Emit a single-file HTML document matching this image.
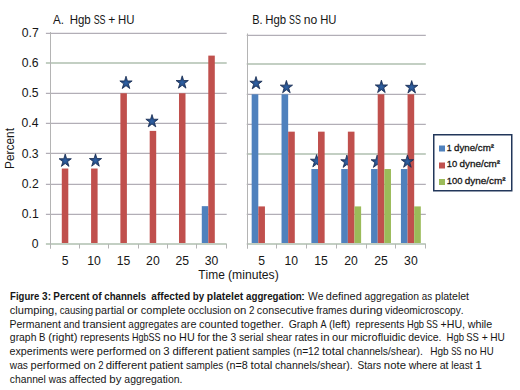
<!DOCTYPE html>
<html><head><meta charset="utf-8"><style>
html,body{margin:0;padding:0;background:#fff;width:520px;height:390px;overflow:hidden}
svg{display:block}
text{font-family:"Liberation Sans",sans-serif;fill:#161616;font-kerning:none}
</style></head><body>
<svg width="520" height="390" viewBox="0 0 520 390">
<defs><radialGradient id="sg" cx="0.5" cy="0.55" r="0.5"><stop offset="0" stop-color="#3063a6"/><stop offset="1" stop-color="#1c3a6c"/></radialGradient></defs>
<rect width="520" height="390" fill="#fff"/>
<rect x="45.90" y="243" width="180.80" height="2" fill="#c3cfc3"/>
<rect x="45.90" y="213" width="180.80" height="1" fill="#ecebee"/>
<rect x="45.90" y="214" width="180.80" height="1" fill="#b2aeb6"/>
<rect x="45.90" y="183" width="180.80" height="1" fill="#ecebee"/>
<rect x="45.90" y="184" width="180.80" height="1" fill="#b2aeb6"/>
<rect x="45.90" y="152" width="180.80" height="1" fill="#ecebee"/>
<rect x="45.90" y="153" width="180.80" height="1" fill="#b2aeb6"/>
<rect x="45.90" y="122" width="180.80" height="1" fill="#ecebee"/>
<rect x="45.90" y="123" width="180.80" height="1" fill="#b2aeb6"/>
<rect x="45.90" y="92" width="180.80" height="1" fill="#ecebee"/>
<rect x="45.90" y="93" width="180.80" height="1" fill="#b2aeb6"/>
<rect x="45.90" y="62" width="180.80" height="2" fill="#c3cfc3"/>
<rect x="45.90" y="32" width="180.80" height="1" fill="#ecebee"/>
<rect x="45.90" y="33" width="180.80" height="1" fill="#b2aeb6"/>
<rect x="50.00" y="32.03" width="1" height="216.47" fill="#b4b4b4"/>
<rect x="50.00" y="244.00" width="1" height="4.50" fill="#b4b4b4"/>
<rect x="79.00" y="244.00" width="1" height="4.50" fill="#b4b4b4"/>
<rect x="108.00" y="244.00" width="1" height="4.50" fill="#b4b4b4"/>
<rect x="138.00" y="244.00" width="1" height="4.50" fill="#b4b4b4"/>
<rect x="167.00" y="244.00" width="1" height="4.50" fill="#b4b4b4"/>
<rect x="196.00" y="244.00" width="1" height="4.50" fill="#b4b4b4"/>
<rect x="226.00" y="244.00" width="1" height="4.50" fill="#b4b4b4"/>
<rect x="246.70" y="243" width="179.10" height="2" fill="#c3cfc3"/>
<rect x="246.70" y="213" width="179.10" height="1" fill="#ecebee"/>
<rect x="246.70" y="214" width="179.10" height="1" fill="#b2aeb6"/>
<rect x="246.70" y="183" width="179.10" height="1" fill="#ecebee"/>
<rect x="246.70" y="184" width="179.10" height="1" fill="#b2aeb6"/>
<rect x="246.70" y="153" width="179.10" height="2" fill="#c3cfc3"/>
<rect x="246.70" y="123" width="179.10" height="1" fill="#ecebee"/>
<rect x="246.70" y="124" width="179.10" height="1" fill="#b2aeb6"/>
<rect x="246.70" y="93" width="179.10" height="1" fill="#ecebee"/>
<rect x="246.70" y="94" width="179.10" height="1" fill="#b2aeb6"/>
<rect x="246.70" y="63" width="179.10" height="2" fill="#c3cfc3"/>
<rect x="246.70" y="34" width="179.10" height="1" fill="#ecebee"/>
<rect x="246.70" y="35" width="179.10" height="1" fill="#b2aeb6"/>
<rect x="247.00" y="33.48" width="1" height="215.02" fill="#b4b4b4"/>
<rect x="247.00" y="244.00" width="1" height="4.50" fill="#b4b4b4"/>
<rect x="276.00" y="244.00" width="1" height="4.50" fill="#b4b4b4"/>
<rect x="306.00" y="244.00" width="1" height="4.50" fill="#b4b4b4"/>
<rect x="336.00" y="244.00" width="1" height="4.50" fill="#b4b4b4"/>
<rect x="366.00" y="244.00" width="1" height="4.50" fill="#b4b4b4"/>
<rect x="395.00" y="244.00" width="1" height="4.50" fill="#b4b4b4"/>
<rect x="425.00" y="244.00" width="1" height="4.50" fill="#b4b4b4"/>
<rect x="61.79" y="168.53" width="6.51" height="74.47" fill="#c0504d"/>
<rect x="91.09" y="168.53" width="6.51" height="74.47" fill="#c0504d"/>
<rect x="120.39" y="93.25" width="6.51" height="149.75" fill="#c0504d"/>
<rect x="149.69" y="130.89" width="6.51" height="112.11" fill="#c0504d"/>
<rect x="178.99" y="93.25" width="6.51" height="149.75" fill="#c0504d"/>
<rect x="201.78" y="206.16" width="6.51" height="36.84" fill="#4f81bd"/>
<rect x="208.29" y="55.61" width="6.51" height="187.39" fill="#c0504d"/>
<polygon points="65.20,154.00 66.65,158.73 71.35,158.73 67.55,161.66 69.00,166.39 65.20,163.47 61.40,166.39 62.85,161.66 59.05,158.73 63.75,158.73" fill="url(#sg)" stroke="#152b52" stroke-width="0.8"/>
<polygon points="95.50,153.80 96.95,158.53 101.65,158.53 97.85,161.46 99.30,166.19 95.50,163.27 91.70,166.19 93.15,161.46 89.35,158.53 94.05,158.53" fill="url(#sg)" stroke="#152b52" stroke-width="0.8"/>
<polygon points="126.00,76.20 127.45,80.93 132.15,80.93 128.35,83.86 129.80,88.59 126.00,85.67 122.20,88.59 123.65,83.86 119.85,80.93 124.55,80.93" fill="url(#sg)" stroke="#152b52" stroke-width="0.8"/>
<polygon points="152.00,114.50 153.45,119.23 158.15,119.23 154.35,122.16 155.80,126.89 152.00,123.97 148.20,126.89 149.65,122.16 145.85,119.23 150.55,119.23" fill="url(#sg)" stroke="#152b52" stroke-width="0.8"/>
<polygon points="182.20,75.80 183.65,80.53 188.35,80.53 184.55,83.46 186.00,88.19 182.20,85.27 178.40,88.19 179.85,83.46 176.05,80.53 180.75,80.53" fill="url(#sg)" stroke="#152b52" stroke-width="0.8"/>
<polygon points="316.60,154.50 318.05,159.23 322.75,159.23 318.95,162.16 320.40,166.89 316.60,163.97 312.80,166.89 314.25,162.16 310.45,159.23 315.15,159.23" fill="url(#sg)" stroke="#152b52" stroke-width="0.8"/>
<polygon points="346.90,155.00 348.35,159.73 353.05,159.73 349.25,162.66 350.70,167.39 346.90,164.47 343.10,167.39 344.55,162.66 340.75,159.73 345.45,159.73" fill="url(#sg)" stroke="#152b52" stroke-width="0.8"/>
<polygon points="377.20,155.00 378.65,159.73 383.35,159.73 379.55,162.66 381.00,167.39 377.20,164.47 373.40,167.39 374.85,162.66 371.05,159.73 375.75,159.73" fill="url(#sg)" stroke="#152b52" stroke-width="0.8"/>
<rect x="251.67" y="94.28" width="6.63" height="148.72" fill="#4f81bd"/>
<rect x="258.31" y="206.41" width="6.63" height="36.59" fill="#c0504d"/>
<rect x="281.53" y="94.28" width="6.63" height="148.72" fill="#4f81bd"/>
<rect x="288.16" y="131.66" width="6.63" height="111.34" fill="#c0504d"/>
<rect x="311.38" y="169.03" width="6.63" height="73.97" fill="#4f81bd"/>
<rect x="318.01" y="131.66" width="6.63" height="111.34" fill="#c0504d"/>
<rect x="341.23" y="169.03" width="6.63" height="73.97" fill="#4f81bd"/>
<rect x="347.86" y="131.66" width="6.63" height="111.34" fill="#c0504d"/>
<rect x="354.49" y="206.41" width="6.63" height="36.59" fill="#9bbb59"/>
<rect x="371.08" y="169.03" width="6.63" height="73.97" fill="#4f81bd"/>
<rect x="377.71" y="94.28" width="6.63" height="148.72" fill="#c0504d"/>
<rect x="384.34" y="169.03" width="6.63" height="73.97" fill="#9bbb59"/>
<rect x="400.93" y="169.03" width="6.63" height="73.97" fill="#4f81bd"/>
<rect x="407.56" y="94.28" width="6.63" height="148.72" fill="#c0504d"/>
<rect x="414.19" y="206.41" width="6.63" height="36.59" fill="#9bbb59"/>
<polygon points="256.00,76.50 257.45,81.23 262.15,81.23 258.35,84.16 259.80,88.89 256.00,85.97 252.20,88.89 253.65,84.16 249.85,81.23 254.55,81.23" fill="url(#sg)" stroke="#152b52" stroke-width="0.8"/>
<polygon points="286.40,80.40 287.85,85.13 292.55,85.13 288.75,88.06 290.20,92.79 286.40,89.87 282.60,92.79 284.05,88.06 280.25,85.13 284.95,85.13" fill="url(#sg)" stroke="#152b52" stroke-width="0.8"/>
<polygon points="407.40,154.90 408.85,159.63 413.55,159.63 409.75,162.56 411.20,167.29 407.40,164.37 403.60,167.29 405.05,162.56 401.25,159.63 405.95,159.63" fill="url(#sg)" stroke="#152b52" stroke-width="0.8"/>
<polygon points="381.40,80.20 382.85,84.93 387.55,84.93 383.75,87.86 385.20,92.59 381.40,89.67 377.60,92.59 379.05,87.86 375.25,84.93 379.95,84.93" fill="url(#sg)" stroke="#152b52" stroke-width="0.8"/>
<polygon points="411.70,80.60 413.15,85.33 417.85,85.33 414.05,88.26 415.50,92.99 411.70,90.07 407.90,92.99 409.35,88.26 405.55,85.33 410.25,85.33" fill="url(#sg)" stroke="#152b52" stroke-width="0.8"/>
<rect x="433.75" y="134.75" width="78" height="56" fill="none" stroke="#22375a" stroke-width="1.5"/>
<rect x="439" y="145.5" width="6" height="6" fill="#4f81bd"/>
<rect x="439" y="162.5" width="6" height="6" fill="#c0504d"/>
<rect x="439" y="179" width="6" height="6" fill="#9bbb59"/>
<text transform="translate(53.10,23.70) scale(0.9511,1) translate(-0.02,0)" font-size="12.2">A.</text>
<text transform="translate(70.60,23.70) scale(0.9428,1) translate(-1.00,0)" font-size="12.2">Hgb</text>
<text transform="translate(94.03,23.70) scale(0.7342,1) translate(-0.55,0)" font-size="12.2">SS</text>
<text transform="translate(108.85,23.70) scale(0.9908,1) translate(-0.60,0)" font-size="12.2">+</text>
<text transform="translate(118.85,23.70) scale(0.9344,1) translate(-1.00,0)" font-size="12.2">HU</text>
<text transform="translate(253.10,23.70) scale(0.9010,1) translate(-1.00,0)" font-size="12.2">B.</text>
<text transform="translate(266.22,23.70) scale(0.9331,1) translate(-1.00,0)" font-size="12.2">Hgb</text>
<text transform="translate(289.41,23.70) scale(0.7266,1) translate(-0.55,0)" font-size="12.2">SS</text>
<text transform="translate(304.66,23.70) scale(0.9948,1) translate(-0.81,0)" font-size="12.2">no</text>
<text transform="translate(321.10,23.70) scale(0.9248,1) translate(-1.00,0)" font-size="12.2">HU</text>
<text transform="translate(198.60,279.20) scale(0.9788,1) translate(-0.27,0)" font-size="12.2">Time</text>
<text transform="translate(228.73,279.20) scale(0.9988,1) translate(-0.76,0)" font-size="12.2">(minutes)</text>
<text transform="translate(14.20,168.00) rotate(-90) scale(0.9767,1) translate(-1.00,0)" font-size="12.2" xml:space="preserve">Percent</text>
<text transform="translate(38.10,247.90) scale(1.0000,1) translate(-6.31,0)" font-size="12.2">0</text>
<text transform="translate(38.10,217.79) scale(1.0000,1) translate(-16.36,0)" font-size="12.2">0.1</text>
<text transform="translate(38.10,187.68) scale(1.0000,1) translate(-16.35,0)" font-size="12.2">0.2</text>
<text transform="translate(38.10,157.57) scale(1.0000,1) translate(-16.42,0)" font-size="12.2">0.3</text>
<text transform="translate(38.10,127.46) scale(1.0000,1) translate(-16.60,0)" font-size="12.2">0.4</text>
<text transform="translate(38.10,97.35) scale(1.0000,1) translate(-16.45,0)" font-size="12.2">0.5</text>
<text transform="translate(38.10,67.24) scale(1.0000,1) translate(-16.42,0)" font-size="12.2">0.6</text>
<text transform="translate(38.10,37.13) scale(1.0000,1) translate(-16.35,0)" font-size="12.2">0.7</text>
<text transform="translate(65.05,264.90) scale(1.0000,1) translate(-3.38,0)" font-size="12.2">5</text>
<text transform="translate(261.62,264.90) scale(1.0000,1) translate(-3.38,0)" font-size="12.2">5</text>
<text transform="translate(94.35,264.90) scale(1.0000,1) translate(-7.01,0)" font-size="12.2">10</text>
<text transform="translate(291.48,264.90) scale(1.0000,1) translate(-7.01,0)" font-size="12.2">10</text>
<text transform="translate(123.65,264.90) scale(1.0000,1) translate(-6.99,0)" font-size="12.2">15</text>
<text transform="translate(321.32,264.90) scale(1.0000,1) translate(-6.99,0)" font-size="12.2">15</text>
<text transform="translate(152.95,264.90) scale(1.0000,1) translate(-6.85,0)" font-size="12.2">20</text>
<text transform="translate(351.18,264.90) scale(1.0000,1) translate(-6.85,0)" font-size="12.2">20</text>
<text transform="translate(182.25,264.90) scale(1.0000,1) translate(-6.84,0)" font-size="12.2">25</text>
<text transform="translate(381.02,264.90) scale(1.0000,1) translate(-6.84,0)" font-size="12.2">25</text>
<text transform="translate(211.55,264.90) scale(1.0000,1) translate(-6.78,0)" font-size="12.2">30</text>
<text transform="translate(410.88,264.90) scale(1.0000,1) translate(-6.78,0)" font-size="12.2">30</text>
<text transform="translate(447.50,151.20) scale(0.9052,1) translate(-0.75,0)" font-size="9.8" stroke="#161616" stroke-width="0.3">1</text>
<text transform="translate(454.45,151.20) scale(0.9910,1) translate(-0.41,0)" font-size="9.8" stroke="#161616" stroke-width="0.3">dyne/cm<tspan font-weight="bold">²</tspan></text>
<text transform="translate(447.50,167.40) scale(0.9586,1) translate(-0.75,0)" font-size="9.8" stroke="#161616" stroke-width="0.3">10</text>
<text transform="translate(459.86,167.40) scale(1.0110,1) translate(-0.41,0)" font-size="9.8" stroke="#161616" stroke-width="0.3">dyne/cm<tspan font-weight="bold">²</tspan></text>
<text transform="translate(447.50,183.60) scale(0.9636,1) translate(-0.75,0)" font-size="9.8" stroke="#161616" stroke-width="0.3">100</text>
<text transform="translate(465.17,183.60) scale(1.0134,1) translate(-0.41,0)" font-size="9.8" stroke="#161616" stroke-width="0.3">dyne/cm<tspan font-weight="bold">²</tspan></text>
<text transform="translate(10.70,299.70) scale(0.9111,1) translate(-0.70,0)" font-size="10.5" font-weight="bold">Figure</text>
<text transform="translate(42.29,299.70) scale(0.9581,1) translate(-0.24,0)" font-size="10.5" font-weight="bold">3:</text>
<text transform="translate(53.96,299.70) scale(0.9411,1) translate(-0.70,0)" font-size="10.5" font-weight="bold">Percent</text>
<text transform="translate(92.50,299.70) scale(0.9777,1) translate(-0.41,0)" font-size="10.5" font-weight="bold">of</text>
<text transform="translate(104.72,299.70) scale(0.9189,1) translate(-0.41,0)" font-size="10.5" font-weight="bold">channels</text>
<text transform="translate(151.59,299.70) scale(0.9650,1) translate(-0.31,0)" font-size="10.5" font-weight="bold">affected</text>
<text transform="translate(193.42,299.70) scale(0.9319,1) translate(-0.69,0)" font-size="10.5" font-weight="bold">by</text>
<text transform="translate(207.45,299.70) scale(0.9936,1) translate(-0.69,0)" font-size="10.5" font-weight="bold">platelet</text>
<text transform="translate(246.30,299.70) scale(0.9302,1) translate(-0.31,0)" font-size="10.5" font-weight="bold">aggregation</text>
<text transform="translate(302.10,299.70) scale(1.6967,1) translate(-0.96,0)" font-size="10.5">:</text>
<text transform="translate(308.00,299.70) scale(0.9830,1) translate(-0.05,0)" font-size="10.5">We</text>
<text transform="translate(326.30,299.70) scale(1.0437,1) translate(-0.44,0)" font-size="10.5">defined</text>
<text transform="translate(365.00,299.70) scale(0.9844,1) translate(-0.45,0)" font-size="10.5">aggregation</text>
<text transform="translate(422.20,299.70) scale(0.9307,1) translate(-0.45,0)" font-size="10.5">as</text>
<text transform="translate(435.70,299.70) scale(1.0059,1) translate(-0.68,0)" font-size="10.5">platelet</text>
<text transform="translate(10.30,313.60) scale(1.0571,1) translate(-0.45,0)" font-size="10.5">clumping,</text>
<text transform="translate(60.20,313.60) scale(0.9192,1) translate(-0.45,0)" font-size="10.5">causing</text>
<text transform="translate(95.80,313.60) scale(1.0265,1) translate(-0.68,0)" font-size="10.5">partial</text>
<text transform="translate(127.50,313.60) scale(1.1803,1) translate(-0.44,0)" font-size="10.5">or</text>
<text transform="translate(141.30,313.60) scale(1.0488,1) translate(-0.45,0)" font-size="10.5">complete</text>
<text transform="translate(188.50,313.60) scale(0.9854,1) translate(-0.44,0)" font-size="10.5">occlusion</text>
<text transform="translate(234.20,313.60) scale(1.0825,1) translate(-0.44,0)" font-size="10.5">on</text>
<text transform="translate(249.60,313.60) scale(0.9356,1) translate(-0.53,0)" font-size="10.5">2</text>
<text transform="translate(257.30,313.60) scale(1.0247,1) translate(-0.45,0)" font-size="10.5">consecutive</text>
<text transform="translate(316.40,313.60) scale(0.9677,1) translate(-0.15,0)" font-size="10.5">frames</text>
<text transform="translate(350.20,313.60) scale(1.1320,1) translate(-0.44,0)" font-size="10.5">during</text>
<text transform="translate(385.10,313.60) scale(0.9698,1) translate(-0.04,0)" font-size="10.5">videomicroscopy.</text>
<text transform="translate(10.30,327.50) scale(1.0007,1) translate(-0.86,0)" font-size="10.5">Permanent</text>
<text transform="translate(64.00,327.50) scale(0.9344,1) translate(-0.45,0)" font-size="10.5">and</text>
<text transform="translate(82.70,327.50) scale(1.0678,1) translate(-0.16,0)" font-size="10.5">transient</text>
<text transform="translate(128.80,327.50) scale(0.9479,1) translate(-0.45,0)" font-size="10.5">aggregates</text>
<text transform="translate(181.20,327.50) scale(1.0371,1) translate(-0.45,0)" font-size="10.5">are</text>
<text transform="translate(199.50,327.50) scale(1.0446,1) translate(-0.45,0)" font-size="10.5">counted</text>
<text transform="translate(241.00,327.50) scale(1.0392,1) translate(-0.16,0)" font-size="10.5">together.</text>
<text transform="translate(289.20,327.50) scale(0.9952,1) translate(-0.53,0)" font-size="10.5">Graph</text>
<text transform="translate(320.40,327.50) scale(0.8637,1) translate(-0.02,0)" font-size="10.5">A</text>
<text transform="translate(329.60,327.50) scale(1.0249,1) translate(-0.65,0)" font-size="10.5">(left)</text>
<text transform="translate(356.30,327.50) scale(0.9834,1) translate(-0.70,0)" font-size="10.5">represents</text>
<text transform="translate(407.70,327.50) scale(0.8884,1) translate(-0.86,0)" font-size="10.5">Hgb</text>
<text transform="translate(426.70,327.50) scale(0.8291,1) translate(-0.48,0)" font-size="10.5">SS</text>
<text transform="translate(441.10,327.50) scale(1.0101,1) translate(-0.51,0)" font-size="10.5">+HU,</text>
<text transform="translate(467.70,327.50) scale(1.0223,1) translate(0.02,0)" font-size="10.5">while</text>
<text transform="translate(10.30,341.40) scale(0.9897,1) translate(-0.44,0)" font-size="10.5">graph</text>
<text transform="translate(39.80,341.40) scale(0.9173,1) translate(-0.86,0)" font-size="10.5">B</text>
<text transform="translate(49.00,341.40) scale(1.0624,1) translate(-0.65,0)" font-size="10.5">(right)</text>
<text transform="translate(81.00,341.40) scale(0.9910,1) translate(-0.70,0)" font-size="10.5">represents</text>
<text transform="translate(132.80,341.40) scale(0.8580,1) translate(-0.86,0)" font-size="10.5">HgbSS</text>
<text transform="translate(163.90,341.40) scale(1.1320,1) translate(-0.70,0)" font-size="10.5">no</text>
<text transform="translate(180.00,341.40) scale(1.0317,1) translate(-0.86,0)" font-size="10.5">HU</text>
<text transform="translate(197.70,341.40) scale(1.0034,1) translate(-0.15,0)" font-size="10.5">for</text>
<text transform="translate(212.40,341.40) scale(1.0710,1) translate(-0.16,0)" font-size="10.5">the</text>
<text transform="translate(230.90,341.40) scale(0.9771,1) translate(-0.40,0)" font-size="10.5">3</text>
<text transform="translate(239.20,341.40) scale(0.9834,1) translate(-0.29,0)" font-size="10.5">serial</text>
<text transform="translate(266.70,341.40) scale(0.9731,1) translate(-0.29,0)" font-size="10.5">shear</text>
<text transform="translate(295.36,341.40) scale(1.0067,1) translate(-0.70,0)" font-size="10.5">rates</text>
<text transform="translate(321.37,341.40) scale(1.0820,1) translate(-0.70,0)" font-size="10.5">in</text>
<text transform="translate(332.43,341.40) scale(1.0600,1) translate(-0.44,0)" font-size="10.5">our</text>
<text transform="translate(351.50,341.40) scale(1.0471,1) translate(-0.70,0)" font-size="10.5">microfluidic</text>
<text transform="translate(408.70,341.40) scale(0.9997,1) translate(-0.44,0)" font-size="10.5">device.</text>
<text transform="translate(447.30,341.40) scale(0.9071,1) translate(-0.86,0)" font-size="10.5">Hgb</text>
<text transform="translate(466.70,341.40) scale(0.8982,1) translate(-0.48,0)" font-size="10.5">SS</text>
<text transform="translate(482.30,341.40) scale(1.0014,1) translate(-0.51,0)" font-size="10.5">+</text>
<text transform="translate(491.00,341.40) scale(0.9634,1) translate(-0.86,0)" font-size="10.5">HU</text>
<text transform="translate(10.00,355.30) scale(1.0202,1) translate(-0.45,0)" font-size="10.5">experiments</text>
<text transform="translate(70.60,355.30) scale(1.0355,1) translate(0.02,0)" font-size="10.5">were</text>
<text transform="translate(97.50,355.30) scale(1.0427,1) translate(-0.68,0)" font-size="10.5">performed</text>
<text transform="translate(149.80,355.30) scale(0.9760,1) translate(-0.44,0)" font-size="10.5">on</text>
<text transform="translate(163.70,355.30) scale(1.0801,1) translate(-0.40,0)" font-size="10.5">3</text>
<text transform="translate(172.90,355.30) scale(1.0749,1) translate(-0.44,0)" font-size="10.5">different</text>
<text transform="translate(216.70,355.30) scale(1.0597,1) translate(-0.68,0)" font-size="10.5">patient</text>
<text transform="translate(252.50,355.30) scale(0.9724,1) translate(-0.29,0)" font-size="10.5">samples</text>
<text transform="translate(293.70,355.30) scale(0.9728,1) translate(-0.65,0)" font-size="10.5">(n=12</text>
<text transform="translate(322.20,355.30) scale(1.1181,1) translate(-0.16,0)" font-size="10.5">total</text>
<text transform="translate(347.30,355.30) scale(0.9801,1) translate(-0.45,0)" font-size="10.5">channels/shear).</text>
<text transform="translate(431.10,355.30) scale(0.9538,1) translate(-0.86,0)" font-size="10.5">Hgb</text>
<text transform="translate(451.50,355.30) scale(0.7472,1) translate(-0.48,0)" font-size="10.5">SS</text>
<text transform="translate(465.00,355.30) scale(1.0968,1) translate(-0.70,0)" font-size="10.5">no</text>
<text transform="translate(480.60,355.30) scale(0.9115,1) translate(-0.86,0)" font-size="10.5">HU</text>
<text transform="translate(9.80,369.20) scale(0.9686,1) translate(0.02,0)" font-size="10.5">was</text>
<text transform="translate(31.32,369.20) scale(1.0481,1) translate(-0.68,0)" font-size="10.5">performed</text>
<text transform="translate(83.89,369.20) scale(1.0412,1) translate(-0.44,0)" font-size="10.5">on</text>
<text transform="translate(98.70,369.20) scale(0.9082,1) translate(-0.53,0)" font-size="10.5">2</text>
<text transform="translate(106.20,369.20) scale(1.0833,1) translate(-0.44,0)" font-size="10.5">different</text>
<text transform="translate(150.34,369.20) scale(1.0644,1) translate(-0.68,0)" font-size="10.5">patient</text>
<text transform="translate(186.30,369.20) scale(0.9511,1) translate(-0.29,0)" font-size="10.5">samples</text>
<text transform="translate(226.60,369.20) scale(1.0289,1) translate(-0.65,0)" font-size="10.5">(n=8</text>
<text transform="translate(250.80,369.20) scale(1.0958,1) translate(-0.16,0)" font-size="10.5">total</text>
<text transform="translate(275.40,369.20) scale(1.0007,1) translate(-0.45,0)" font-size="10.5">channels/shear).</text>
<text transform="translate(357.90,369.20) scale(0.9677,1) translate(-0.48,0)" font-size="10.5">Stars</text>
<text transform="translate(384.63,369.20) scale(1.0831,1) translate(-0.70,0)" font-size="10.5">note</text>
<text transform="translate(408.70,369.20) scale(0.9965,1) translate(0.02,0)" font-size="10.5">where</text>
<text transform="translate(440.10,369.20) scale(1.0109,1) translate(-0.45,0)" font-size="10.5">at</text>
<text transform="translate(451.90,369.20) scale(0.9593,1) translate(-0.71,0)" font-size="10.5">least</text>
<text transform="translate(476.10,369.20) scale(1.1486,1) translate(-0.80,0)" font-size="10.5">1</text>
<text transform="translate(10.30,383.10) scale(0.9802,1) translate(-0.45,0)" font-size="10.5">channel</text>
<text transform="translate(48.70,383.10) scale(0.9460,1) translate(0.02,0)" font-size="10.5">was</text>
<text transform="translate(69.40,383.10) scale(1.0070,1) translate(-0.45,0)" font-size="10.5">affected</text>
<text transform="translate(110.00,383.10) scale(1.0921,1) translate(-0.68,0)" font-size="10.5">by</text>
<text transform="translate(124.80,383.10) scale(0.9952,1) translate(-0.45,0)" font-size="10.5">aggregation.</text>
</svg>
</body></html>
